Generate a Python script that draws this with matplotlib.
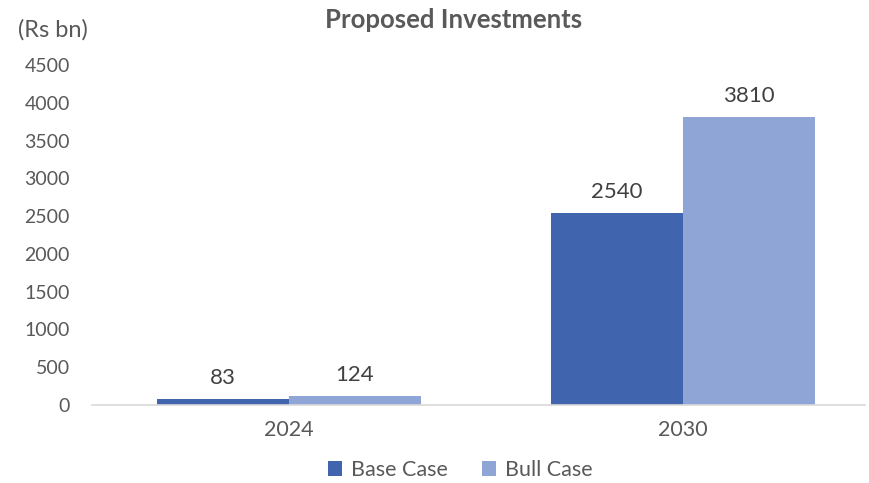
import matplotlib

matplotlib.use("Agg")
import matplotlib.pyplot as plt
import numpy as np

# Proposed investments, Rs bn
years = ["2024", "2030"]
base_case = [83, 2540]
bull_case = [124, 3810]
y_ticks = [0, 500, 1000, 1500, 2000, 2500, 3000, 3500, 4000, 4500]

BASE_COLOR = "#4065AE"
BULL_COLOR = "#8FA5D5"
TEXT_COLOR = "#595959"

plt.rcParams["font.family"] = ["Lato", "DejaVu Sans"]

fig = plt.figure(figsize=(8.69, 4.83), dpi=100)
ax = fig.add_axes([0.106, 0.1615, 0.889, 0.704])

x = np.arange(len(years))
width = 0.335
bars_base = ax.bar(x - width / 2, base_case, width, color=BASE_COLOR, label="Base Case")
bars_bull = ax.bar(x + width / 2, bull_case, width, color=BULL_COLOR, label="Bull Case")

for bars, vals in ((bars_base, base_case), (bars_bull, bull_case)):
    for bar, v in zip(bars, vals):
        ax.annotate(
            f"{v}",
            (bar.get_x() + bar.get_width() / 2, v),
            xytext=(0, 8),
            textcoords="offset points",
            ha="center",
            va="bottom",
            fontsize=16,
            color="#404040",
        )

ax.set_xlim(-0.5, 1.462)
ax.set_ylim(0, 4500)
ax.set_yticks(y_ticks)
ax.set_xticks(x)
ax.set_xticklabels(years)
ax.tick_params(axis="both", length=0, labelcolor=TEXT_COLOR)
ax.tick_params(axis="y", labelsize=14, pad=16)
ax.tick_params(axis="x", labelsize=15.5, pad=11)

for side in ("top", "right", "left"):
    ax.spines[side].set_visible(False)
ax.spines["bottom"].set_color("#D9D9D9")
ax.spines["bottom"].set_linewidth(1.2)

fig.text(0.522, 0.958, "Proposed Investments", ha="center", va="center",
         fontsize=18.5, fontweight="bold", color=TEXT_COLOR)
fig.text(0.021, 0.938, "(Rs bn)", ha="left", va="center", fontsize=17, color=TEXT_COLOR)

fig.legend(
    loc="center",
    bbox_to_anchor=(0.53, 0.027),
    ncol=2,
    frameon=False,
    fontsize=15.5,
    labelcolor=TEXT_COLOR,
    handlelength=0.65,
    handleheight=0.65,
    handletextpad=0.4,
    columnspacing=1.6,
)

fig.savefig("out.png", dpi=100)
